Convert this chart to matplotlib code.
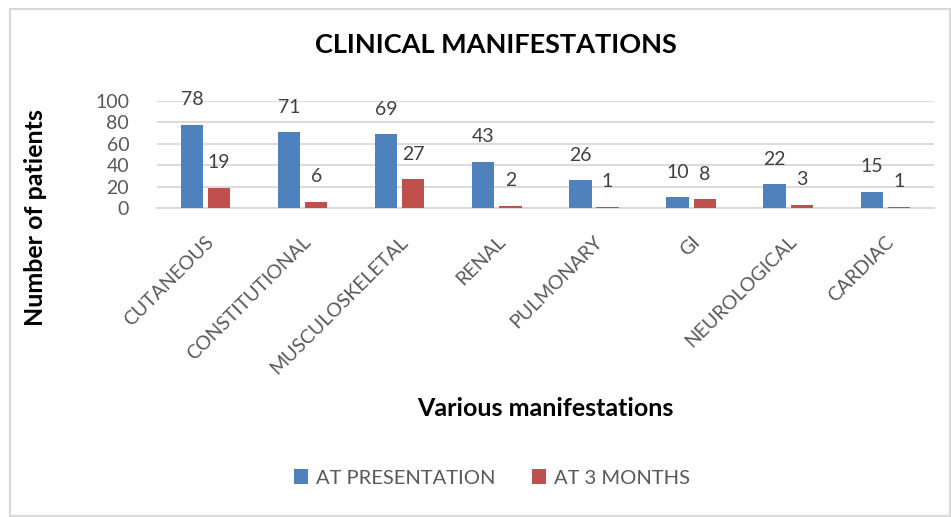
import matplotlib.pyplot as plt
import numpy as np
from matplotlib.patches import Rectangle

# plot colors
steel_blue = "#4F81BD"
brick_red = "#C0504D"
grid_gray = "#D9D9D9"
tick_gray = "#595959"
label_gray = "#404040"

categories = ["CUTANEOUS", "CONSTITUTIONAL", "MUSCULOSKELETAL", "RENAL",
              "PULMONARY", "GI", "NEUROLOGICAL", "CARDIAC"]
at_presentation = [78, 71, 69, 43, 26, 10, 22, 15]
at_3_months = [19, 6, 27, 2, 1, 8, 3, 1]
y_ticks = [0, 20, 40, 60, 80, 100]

plt.rcParams["font.family"] = ["Lato", "DejaVu Sans"]

fig = plt.figure(figsize=(9.51, 5.17), dpi=100)
ax = fig.add_axes([0.165, 0.5977, 0.817, 0.207])

x = np.arange(len(categories))
width = 0.23
bars_a = ax.bar(x - 0.14, at_presentation, width, color=steel_blue, zorder=3,
                label="AT PRESENTATION")
bars_b = ax.bar(x + 0.14, at_3_months, width, color=brick_red, zorder=3,
                label="AT 3 MONTHS")

for bars in (bars_a, bars_b):
    for bar in bars:
        ax.annotate(f"{bar.get_height():g}",
                    (bar.get_x() + bar.get_width() / 2, bar.get_height()),
                    xytext=(0, 18), textcoords="offset points",
                    ha="center", va="center", fontsize=14, color=label_gray)

ax.set_xlim(-0.5, len(categories) - 0.5)
ax.set_ylim(0, 100)
ax.set_yticks(y_ticks)
ax.yaxis.grid(True, color=grid_gray, linewidth=1.3, zorder=0)
for side in ("top", "right", "left"):
    ax.spines[side].set_visible(False)
ax.spines["bottom"].set_color(grid_gray)
ax.spines["bottom"].set_linewidth(1.3)
ax.tick_params(axis="both", length=0, colors=tick_gray, labelsize=14)
ax.tick_params(axis="y", pad=20)
ax.set_xticks(x)
ax.set_xticklabels(categories, rotation=45, ha="right", va="top",
                   rotation_mode="anchor")
ax.tick_params(axis="x", pad=18)

fig.text(496 / 951, 1 - 45 / 517, "CLINICAL MANIFESTATIONS", ha="center",
         va="center", fontsize=19.5, fontweight="bold", color="black")
fig.text(0.037, 1 - 218 / 517, "Number of patients", ha="center", va="center",
         rotation=90, fontsize=18, fontweight="bold", color="black")
fig.text(545 / 951, 1 - 408 / 517, "Various manifestations", ha="center",
         va="center", fontsize=18, fontweight="bold", color="black")

fig.legend(handles=[bars_a, bars_b], loc="center", ncol=2,
           bbox_to_anchor=(0.517, 1 - 478 / 517), frameon=False,
           fontsize=14.5, handlelength=0.7, handleheight=0.7,
           handletextpad=0.4, columnspacing=1.8, labelcolor=tick_gray)

fig.patches.append(Rectangle((10 / 951, 1 / 517), 940 / 951, 507 / 517,
                             transform=fig.transFigure, fill=False,
                             edgecolor=grid_gray, linewidth=1.5))

fig.savefig("out.png", dpi=100)
